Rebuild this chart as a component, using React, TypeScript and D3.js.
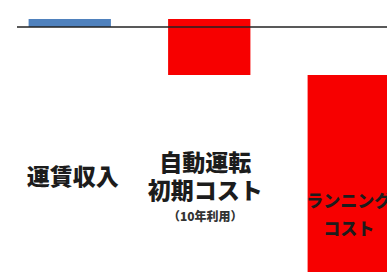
import { useEffect, useRef } from "react";
import * as d3 from "d3";

// waterfall steps (units are arbitrary)
const categories = ["revenue", "initialCost", "runningCost"];
const deltas = [10, -70, -400];
const barColors = ["#4f81bd", "#f70000", "#f70000"];

// category labels, one array of lines per bar
const labelLines = [["運賃収入"], ["自動運転", "初期コスト"], ["ランニング", "コスト"]];
const subLabels = ["", "（10年利用）", ""];

const App = () => {
  const svgRef = useRef<SVGSVGElement | null>(null);

  useEffect(() => {
    const width = 387;
    const height = 272;

    const svg = d3.select(svgRef.current);
    svg.selectAll("*").remove();

    // running totals -> start / end of each floating bar
    let total = 0;
    const steps = deltas.map((d, i) => {
      const start = total;
      total += d;
      return { key: categories[i], start, end: total, color: barColors[i] };
    });

    const xScale = d3
      .scaleBand()
      .domain(categories)
      .range([0, 418.5])
      .paddingInner(0.41)
      .paddingOuter(0.205);

    // 0 sits on the axis line, values go up
    const yScale = d3.scaleLinear().domain([10, 0]).range([19, 27]);

    const g = svg.append("g");

    g.selectAll("rect.bar")
      .data(steps)
      .join("rect")
      .attr("class", "bar")
      .attr("x", (d) => xScale(d.key)!)
      .attr("width", xScale.bandwidth())
      .attr("y", (d) => yScale(Math.max(d.start, d.end)))
      .attr("height", (d) => Math.abs(yScale(d.start) - yScale(d.end)))
      .attr("fill", (d) => d.color);

    // zero line across the chart
    g.append("line")
      .attr("x1", 17)
      .attr("x2", width)
      .attr("y1", yScale(0))
      .attr("y2", yScale(0))
      .attr("stroke", "#222")
      .attr("stroke-width", 1.5);

    // category labels
    const labelTop = [185, 170.5, 207];
    const lineGap = [0, 28, 28];
    const labelSize = [23, 23, 17];
    const labelDx = [3, -4, 0];

    const labels = g
      .selectAll("g.label")
      .data(categories)
      .join("g")
      .attr("class", "label")
      .attr(
        "transform",
        (d, i) => `translate(${xScale(d)! + xScale.bandwidth() / 2 + labelDx[i]}, 0)`
      );

    labels.each(function (_, i) {
      const sel = d3.select(this);
      labelLines[i].forEach((line, j) => {
        sel
          .append("text")
          .attr("y", labelTop[i] + j * lineGap[i])
          .attr("text-anchor", "middle")
          .attr("font-family", "'Noto Sans CJK JP', sans-serif")
          .attr("font-weight", 900)
          .attr("font-size", labelSize[i])
          .attr("fill", "#1c1c1c")
          .text(line);
      });
      if (subLabels[i]) {
        sel
          .append("text")
          .attr("y", 221)
          .attr("text-anchor", "middle")
          .attr("font-family", "'Noto Sans CJK JP', sans-serif")
          .attr("font-weight", 900)
          .attr("font-size", 12)
          .attr("fill", "#333")
          .text(subLabels[i]);
      }
    });

    svg.attr("width", width).attr("height", height);
  }, []);

  return (
    <svg
      ref={svgRef}
      width={387}
      height={272}
      style={{ position: "absolute", left: 0, top: 0, background: "#fff", overflow: "hidden" }}
    />
  );
};

export default App;
